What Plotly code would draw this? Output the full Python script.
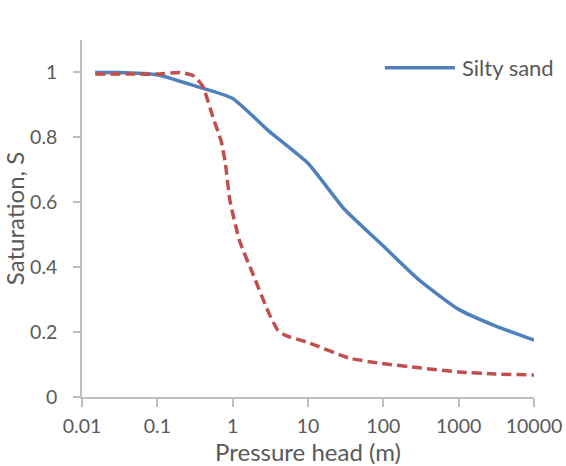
import plotly.graph_objects as go

# Silty sand retention curve (solid)
head_sand = [0.015, 0.03, 0.1, 0.3, 1, 3, 10, 30, 100, 300, 1000, 3000, 10000]
sat_sand = [1.0, 1.0, 0.993, 0.96, 0.92, 0.82, 0.72, 0.58, 0.465, 0.36, 0.27, 0.22, 0.175]

# Second retention curve (dashed)
head_dash = [0.015, 0.05, 0.1, 0.2, 0.3, 0.4, 0.55, 0.7, 0.8, 0.92, 1.24, 1.85,
             3, 4, 5, 10, 35, 90, 300, 1000, 3000, 10000]
sat_dash = [0.995, 0.995, 0.995, 1.0, 0.99, 0.958, 0.86, 0.79, 0.72, 0.605, 0.48, 0.38,
            0.26, 0.205, 0.19, 0.168, 0.12, 0.104, 0.09, 0.077, 0.071, 0.068]

x_ticks = [0.01, 0.1, 1, 10, 100, 1000, 10000]
x_ticktext = ["0.01", "0.1", "1", "10", "100", "1000", "10000"]
y_ticks = [0, 0.2, 0.4, 0.6, 0.8, 1.0]
y_ticktext = ["0", "0.2", "0.4", "0.6", "0.8", "1"]

BLUE = "#4F81BD"
RED = "#C0504D"
GREY_TEXT = "#595959"
AXIS = "#BFBFBF"
FONT = "Lato, 'Open Sans', sans-serif"

fig = go.Figure()
fig.add_trace(go.Scatter(x=head_sand, y=sat_sand, mode="lines", name="Silty sand",
                         line=dict(color=BLUE, width=3.5, shape="spline", smoothing=0.5),
                         showlegend=False))
fig.add_trace(go.Scatter(x=head_dash, y=sat_dash, mode="lines", name="dashed",
                         line=dict(color=RED, width=3.5, dash="10px,5px",
                                   shape="spline", smoothing=0.5),
                         showlegend=False))

# legend drawn as a line sample plus label
fig.add_shape(type="line", xref="paper", yref="paper", x0=0.670, x1=0.825, y0=0.922, y1=0.922,
              line=dict(color=BLUE, width=3.5))
fig.add_annotation(text="Silty sand", xref="paper", yref="paper", x=0.836, y=0.922,
                   xanchor="left", yanchor="middle", showarrow=False,
                   font=dict(family=FONT, size=22, color=GREY_TEXT))

fig.update_xaxes(type="log", range=[-2, 4], tickvals=x_ticks, ticktext=x_ticktext,
                 automargin=False,
                 showgrid=False, zeroline=False, showline=True, linecolor=AXIS, linewidth=1.5,
                 ticks="outside", ticklen=8, tickcolor=AXIS, tickwidth=1.5,
                 ticklabelstandoff=3,
                 tickfont=dict(family=FONT, size=19.5, color=GREY_TEXT),
                 title=dict(text="Pressure head (m)", standoff=6,
                            font=dict(family=FONT, size=24, color=GREY_TEXT)))
fig.update_yaxes(range=[0, 1.1], tickvals=y_ticks, ticktext=y_ticktext,
                 automargin=False,
                 showgrid=False, zeroline=False, showline=True, linecolor=AXIS, linewidth=1.5,
                 ticks="outside", ticklen=7, tickcolor=AXIS, tickwidth=1.5,
                 ticklabelstandoff=12,
                 tickfont=dict(family=FONT, size=19.5, color=GREY_TEXT),
                 title=dict(text="Saturation, S", standoff=0,
                            font=dict(family=FONT, size=24, color=GREY_TEXT)))

fig.update_layout(width=566, height=466, margin=dict(l=82, r=32, t=40, b=69),
                  plot_bgcolor="white", paper_bgcolor="white")

fig.write_html("out.html")
